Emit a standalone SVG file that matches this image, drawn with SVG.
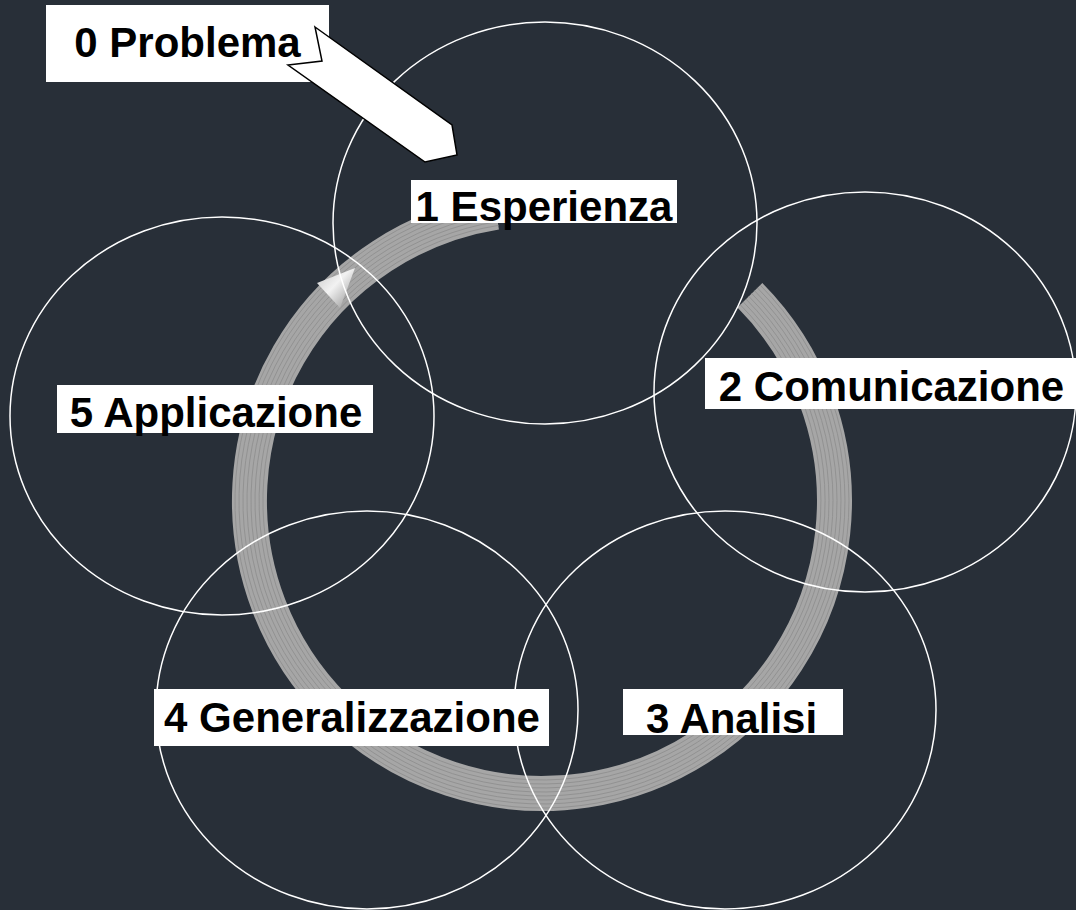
<svg xmlns="http://www.w3.org/2000/svg" width="1076" height="910" viewBox="0 0 1076 910">
<defs>
<style>
.bg{fill:#282f38}
.ring{fill:none;stroke:#a6a6a6;stroke-width:35}
.stripe{fill:none;stroke:#929292;stroke-width:1}
.circ{fill:none;stroke:#ffffff;stroke-width:1.5}
.box{fill:#ffffff}
.lbl{font-family:"Liberation Sans",Arial,sans-serif;font-weight:bold;font-size:42px;fill:#000000;text-anchor:middle}
.parrow{fill:#ffffff;stroke:#000000;stroke-width:1.5;stroke-linejoin:miter}
</style>
<linearGradient id="cone" x1="0" y1="0" x2="1" y2="1">
<stop offset="0" stop-color="#c8c8c8"/>
<stop offset="0.45" stop-color="#f2f2f2"/>
<stop offset="1" stop-color="#8c8c8c"/>
</linearGradient>
</defs>
<rect class="bg" x="0" y="0" width="1076" height="910"/>
<g id="connectors">
<g id="cycle-ring">
<path class="ring" d="M749.9,295.3 A292.5,292.5 0 1 1 496.2,212.1"/>
<path class="stripe" d="M740.3,304.8 A279,279 0 1 1 498.4,225.4"/>
<path class="stripe" d="M743.2,301.9 A283,283 0 1 1 497.7,221.5"/>
<path class="stripe" d="M746.0,299.1 A287,287 0 1 1 497.1,217.5"/>
<path class="stripe" d="M748.8,296.3 A291,291 0 1 1 496.5,213.6"/>
<path class="stripe" d="M751.7,293.5 A295,295 0 1 1 495.9,209.6"/>
<path class="stripe" d="M754.5,290.7 A299,299 0 1 1 495.2,205.7"/>
<path class="stripe" d="M757.4,287.9 A303,303 0 1 1 494.6,201.7"/>
<path class="stripe" d="M760.2,285.1 A307,307 0 1 1 494.0,197.8"/>
<polygon points="317,283 355,268 340,308" fill="url(#cone)"/>
</g>
</g>
<g id="node-1">
<ellipse class="circ" cx="545" cy="223" rx="212" ry="201"/>
</g>
<g id="node-2">
<ellipse class="circ" cx="865" cy="392" rx="211" ry="200"/>
</g>
<g id="node-3">
<ellipse class="circ" cx="725" cy="710" rx="211" ry="199"/>
</g>
<g id="node-4">
<ellipse class="circ" cx="367" cy="710" rx="211" ry="199"/>
</g>
<g id="node-5">
<ellipse class="circ" cx="222" cy="416" rx="212" ry="199"/>
</g>
<g id="node-0">
<rect class="box" x="46" y="5" width="283" height="77"/>
<text class="lbl" x="187.5" y="57">0 Problema</text>
<polygon class="parrow" points="315,27 452,125 457,155 425,162 288,65 322,61"/>
</g>
<g id="label-1">
<rect class="box" x="411" y="180" width="266" height="43"/>
<text class="lbl" x="544" y="221">1 Esperienza</text>
</g>
<g id="label-2">
<rect class="box" x="705" y="358" width="371" height="51"/>
<text class="lbl" x="891.5" y="401">2 Comunicazione</text>
</g>
<g id="label-3">
<rect class="box" x="623" y="689" width="220" height="46"/>
<text class="lbl" x="731.5" y="733">3 Analisi</text>
</g>
<g id="label-4">
<rect class="box" x="154" y="689" width="395" height="57"/>
<text class="lbl" x="352" y="732">4 Generalizzazione</text>
</g>
<g id="label-5">
<rect class="box" x="57" y="385" width="316" height="48"/>
<text class="lbl" x="216" y="427">5 Applicazione</text>
</g>
</svg>
